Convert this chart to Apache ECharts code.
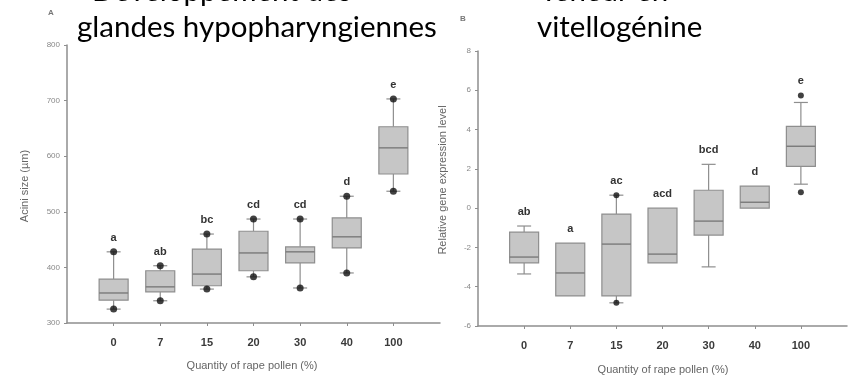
<!DOCTYPE html>
<html>
<head>
<meta charset="utf-8">
<script src="https://cdn.jsdelivr.net/npm/echarts@6/dist/echarts.min.js"></script>
<style>
  html, body { margin: 0; padding: 0; background: #fff; }
  #chart { width: 850px; height: 379px; }
</style>
</head>
<body>
<div id="chart"></div>
<script>
(function (echarts) {
  "use strict";

  // categories (% rape pollen)
  var categories = ['0', '7', '15', '20', '30', '40', '100'];

  // panel A : acini size (µm)
  var aLow    = [325, 340, 361, 383, 363, 390, 537];
  var aQ1     = [341, 356, 367, 394, 408, 435, 568];
  var aMedian = [354, 365, 388, 426, 428, 455, 615];
  var aQ3     = [379, 394, 433, 465, 437, 489, 653];
  var aHigh   = [428, 403, 460, 487, 487, 528, 703];
  var aLetters = ['a', 'ab', 'bc', 'cd', 'cd', 'd', 'e'];

  // panel B : relative vitellogenin expression
  var bLow    = [-3.35, -4.47, -4.82, -2.79, -2.99, 0.00, 1.22];
  var bQ1     = [-2.79, -4.47, -4.47, -2.79, -1.37, 0.00, 2.13];
  var bMedian = [-2.49, -3.30, -1.83, -2.34, -0.66, 0.30, 3.15];
  var bQ3     = [-1.22, -1.78, -0.30, 0.00, 0.91, 1.12, 4.16];
  var bHigh   = [-0.91, -1.78, 0.66, 0.00, 2.23, 1.12, 5.38];
  var bOutliers = [['15', -4.82], ['15', 0.66], ['100', 0.81], ['100', 5.74]];
  var bLetters = ['ab', 'a', 'ac', 'acd', 'bcd', 'd', 'e'];

  var axisCats = [''].concat(categories, ['']);
  var GREY = '#8e8e8e';

  function boxRows(low, q1, med, q3, high, outliers) {
    return categories.map(function (c, i) {
      var top = high[i];
      outliers.forEach(function (o) {
        if (o[0] === c && o[1] > top) { top = o[1]; }
      });
      return [i + 1, low[i], q1[i], med[i], q3[i], high[i], top];
    });
  }

  function makeRender(letters) {
    return function (params, api) {
      var x = api.value(0);
      var pLow = api.coord([x, api.value(1)])
        , pQ1 = api.coord([x, api.value(2)])
        , pMed = api.coord([x, api.value(3)])
        , pQ3 = api.coord([x, api.value(4)])
        , pHigh = api.coord([x, api.value(5)])
        , pTop = api.coord([x, api.value(6)]);
      var cx = pMed[0], half = 14.5, cap = 7;
      var line = { stroke: GREY, lineWidth: 1.2 };
      var kids = [];
      if (pHigh[1] < pQ3[1] - 0.5) {
        kids.push({ type: 'line', shape: { x1: cx, y1: pQ3[1], x2: cx, y2: pHigh[1] }, style: line });
        kids.push({ type: 'line', shape: { x1: cx - cap, y1: pHigh[1], x2: cx + cap, y2: pHigh[1] }, style: line });
      }
      if (pLow[1] > pQ1[1] + 0.5) {
        kids.push({ type: 'line', shape: { x1: cx, y1: pQ1[1], x2: cx, y2: pLow[1] }, style: line });
        kids.push({ type: 'line', shape: { x1: cx - cap, y1: pLow[1], x2: cx + cap, y2: pLow[1] }, style: line });
      }
      kids.push({
        type: 'rect',
        shape: { x: cx - half, y: pQ3[1], width: half * 2, height: pQ1[1] - pQ3[1] },
        style: { fill: '#c6c6c6', stroke: GREY, lineWidth: 1.2 }
      });
      kids.push({ type: 'line', shape: { x1: cx - half, y1: pMed[1], x2: cx + half, y2: pMed[1] }, style: { stroke: '#7a7a7a', lineWidth: 1.4 } });
      kids.push({
        type: 'text',
        style: {
          text: letters[params.dataIndex], x: cx, y: pTop[1] - 14,
          align: 'center', verticalAlign: 'middle',
          font: 'bold 11px "Liberation Sans", Arial, sans-serif', fill: '#333'
        }
      });
      return { type: 'group', children: kids };
    };
  }

  var aDots = [];
  categories.forEach(function (c, i) {
    aDots.push([i + 1, aLow[i]]);
    aDots.push([i + 1, aHigh[i]]);
  });
  var bDots = bOutliers.map(function (o) {
    return [categories.indexOf(o[0]) + 1, o[1]];
  });

  function xAxis(idx) {
    return {
      type: 'category', gridIndex: idx, data: axisCats, boundaryGap: false,
      axisLine: { onZero: false, lineStyle: { color: GREY, width: 1.5 } },
      axisTick: { show: true, length: 3, lineStyle: { color: GREY },
        interval: function (i, v) { return v !== ''; } },
      axisLabel: { interval: 0, margin: 14, color: '#3a3a3a', fontSize: 11, fontWeight: 'bold',
        fontFamily: '"Liberation Sans", Arial, sans-serif' },
      splitLine: { show: false }
    };
  }

  function yAxis(idx, min, max, interval) {
    return {
      type: 'value', gridIndex: idx, min: min, max: max, interval: interval,
      axisLine: { show: true, lineStyle: { color: GREY, width: 1.5 } },
      axisTick: { show: true, length: 3, lineStyle: { color: GREY } },
      axisLabel: { color: '#888', fontSize: 8, margin: 7,
        fontFamily: '"Liberation Sans", Arial, sans-serif' },
      splitLine: { show: false }
    };
  }

  var titleFont = '29.5px Lato, "Open Sans", sans-serif';
  var smallFont = '11px "Liberation Sans", Arial, sans-serif';

  var option = {
    animation: false,
    backgroundColor: '#fff',
    grid: [
      { left: 67, top: 45, width: 373, height: 278 },
      { left: 478, top: 51, width: 370, height: 275 }
    ],
    xAxis: [xAxis(0), xAxis(1)],
    yAxis: [yAxis(0, 300, 800, 100), yAxis(1, -6, 8, 2)],
    series: [
      { type: 'custom', xAxisIndex: 0, yAxisIndex: 0, renderItem: makeRender(aLetters),
        data: boxRows(aLow, aQ1, aMedian, aQ3, aHigh, []), z: 2 },
      { type: 'scatter', xAxisIndex: 0, yAxisIndex: 0, data: aDots, symbolSize: 7,
        itemStyle: { color: '#111' }, z: 3 },
      { type: 'custom', xAxisIndex: 1, yAxisIndex: 1, renderItem: makeRender(bLetters),
        data: boxRows(bLow, bQ1, bMedian, bQ3, bHigh, bOutliers), z: 2 },
      { type: 'scatter', xAxisIndex: 1, yAxisIndex: 1, data: bDots, symbolSize: 6,
        itemStyle: { color: '#111' }, z: 3 }
    ],
    graphic: [
      { type: 'text', x: 92, y: -9, style: { text: 'Développement des', font: titleFont, fill: '#000', verticalAlign: 'middle' } },
      { type: 'text', x: 77, y: 27, style: { text: 'glandes hypopharyngiennes', font: titleFont, fill: '#000', verticalAlign: 'middle' } },
      { type: 'text', x: 540, y: -9, style: { text: 'Teneur en', font: titleFont, fill: '#000', verticalAlign: 'middle' } },
      { type: 'text', x: 537, y: 27, style: { text: 'vitellogénine', font: titleFont, fill: '#000', verticalAlign: 'middle' } },
      { type: 'text', x: 51, y: 13, style: { text: 'A', font: 'bold 8px "Liberation Sans", Arial', fill: '#777', align: 'center', verticalAlign: 'middle' } },
      { type: 'text', x: 463, y: 19, style: { text: 'B', font: 'bold 8px "Liberation Sans", Arial', fill: '#777', align: 'center', verticalAlign: 'middle' } },
      { type: 'text', x: 25, y: 186, rotation: Math.PI / 2, style: { text: 'Acini size (µm)', font: smallFont, fill: '#666', align: 'center', verticalAlign: 'middle' } },
      { type: 'text', x: 443, y: 180, rotation: Math.PI / 2, style: { text: 'Relative gene expression level', font: smallFont, fill: '#666', align: 'center', verticalAlign: 'middle' } },
      { type: 'text', x: 252, y: 366, style: { text: 'Quantity of rape pollen (%)', font: smallFont, fill: '#666', align: 'center', verticalAlign: 'middle' } },
      { type: 'text', x: 663, y: 370, style: { text: 'Quantity of rape pollen (%)', font: smallFont, fill: '#666', align: 'center', verticalAlign: 'middle' } }
    ]
  };

  var instance = echarts.init(document.getElementById('chart'), null, { renderer: 'canvas' });
  instance.setOption(option);
})(echarts);
</script>
</body>
</html>
